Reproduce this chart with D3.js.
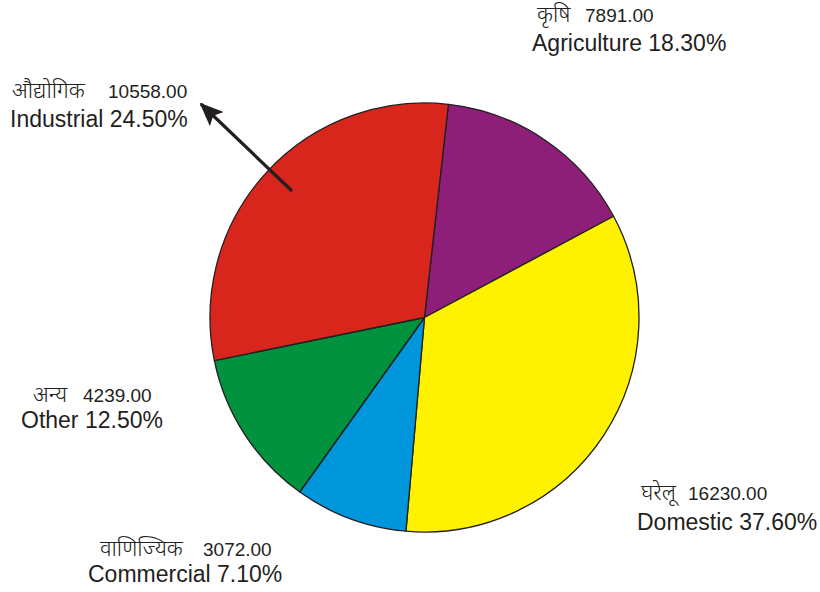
<!DOCTYPE html>
<html>
<head>
<meta charset="utf-8">
<script src="https://cdn.jsdelivr.net/npm/d3@7"></script>
<style>
  body { margin: 0; background: #fff; }
  svg { display: block; }
  .en { font-family: Arial, "Liberation Sans", sans-serif; font-size: 23px; fill: #231f20; }
  .num { font-family: Arial, "Liberation Sans", sans-serif; font-size: 19px; fill: #231f20; }
  .hi { font-family: "Noto Sans Devanagari", "Noto Sans", "Lohit Devanagari", sans-serif; font-size: 22px; font-weight: 300; fill: #231f20; }
</style>
</head>
<body>
<svg id="chart" width="820" height="592"></svg>
<script>
// categories, clockwise from the top
var hindiNames = ['कृषि', 'घरेलू', 'वाणिज्यिक', 'अन्य', 'औद्योगिक'];
var englishNames = ['Agriculture', 'Domestic', 'Commercial', 'Other', 'Industrial'];
var amounts = [7891, 16230, 3072, 4239, 10558];
var percentLabels = [18.30, 37.60, 7.10, 12.50, 24.50];
// slice sizes as drawn in the picture (percent of circle)
var sliceShares = [15.4, 34.2, 8.5, 11.9, 30.0];
var colors = ['#8e1f78', '#fff200', '#0096db', '#00923f', '#d9261c'];

var width = 820, height = 592;
var cx = 424.5, cy = 317.5, radius = 214.5;
var startDeg = 6.4;

// label anchors: [devanagari x, number x, line1 baseline, line2 x, line2 baseline]
var labelPos = [
  [537, 585, 22, 532, 51],
  [641, 688, 500, 637, 530],
  [100, 203, 556, 88, 582],
  [33, 83, 402, 21, 428],
  [12, 108, 98, 10, 127]
];

var svg = d3.select('#chart');

var pie = d3.pie()
  .sort(null)
  .startAngle(startDeg * Math.PI / 180)
  .endAngle((startDeg + 360) * Math.PI / 180)
  .value(function(d) { return d; });

var arc = d3.arc().innerRadius(0).outerRadius(radius);

var g = svg.append('g').attr('transform', 'translate(' + cx + ',' + cy + ')');

g.selectAll('path')
  .data(pie(sliceShares))
  .enter().append('path')
  .attr('d', arc)
  .attr('fill', function(d, i) { return colors[i]; })
  .attr('stroke', '#231f20')
  .attr('stroke-width', 1.3)
  .attr('stroke-linejoin', 'round');

// arrow pointing out of the industrial slice
var defs = svg.append('defs');
defs.append('marker')
  .attr('id', 'head')
  .attr('viewBox', '0 0 12 10')
  .attr('refX', 11)
  .attr('refY', 5)
  .attr('markerWidth', 7.5)
  .attr('markerHeight', 6.2)
  .attr('markerUnits', 'strokeWidth')
  .attr('orient', 'auto')
  .append('path')
  .attr('d', 'M0,0 L12,5 L0,10 L2.5,5 Z')
  .attr('fill', '#231f20');

svg.append('line')
  .attr('x1', 292).attr('y1', 191)
  .attr('x2', 201).attr('y2', 104)
  .attr('stroke', '#231f20')
  .attr('stroke-width', 3.2)
  .attr('marker-end', 'url(#head)');

var labels = svg.selectAll('g.label')
  .data(englishNames)
  .enter().append('g')
  .attr('class', 'label');

labels.append('text')
  .attr('class', 'hi')
  .attr('x', function(d, i) { return labelPos[i][0]; })
  .attr('y', function(d, i) { return labelPos[i][2]; })
  .text(function(d, i) { return hindiNames[i]; });

labels.append('text')
  .attr('class', 'num')
  .attr('x', function(d, i) { return labelPos[i][1]; })
  .attr('y', function(d, i) { return labelPos[i][2]; })
  .text(function(d, i) { return d3.format('.2f')(amounts[i]); });

labels.append('text')
  .attr('class', 'en')
  .attr('x', function(d, i) { return labelPos[i][3]; })
  .attr('y', function(d, i) { return labelPos[i][4]; })
  .text(function(d, i) { return d + ' ' + d3.format('.2f')(percentLabels[i]) + '%'; });
</script>
</body>
</html>
